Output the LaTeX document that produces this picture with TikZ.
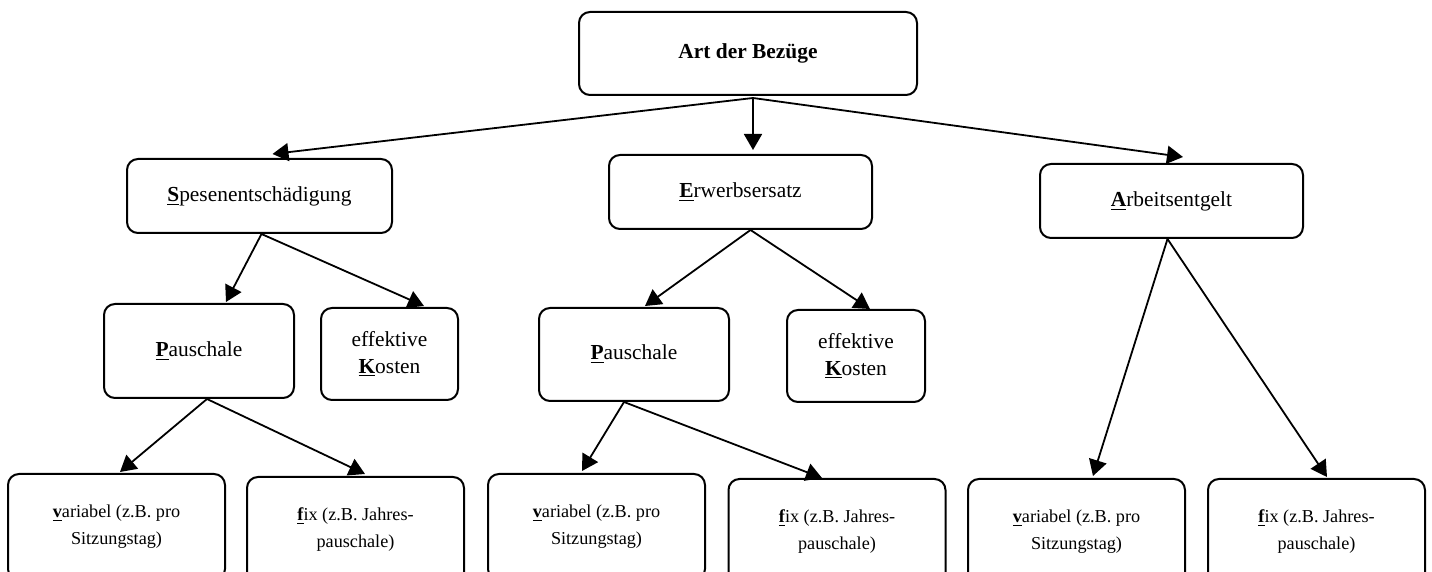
\documentclass[tikz,border=0pt]{standalone}
\usepackage{fontspec}
\setmainfont{Liberation Serif}
\usetikzlibrary{arrows.meta}

\begin{document}
\begin{tikzpicture}[x=0.5pt, y=-0.5pt,
    kasten/.style={draw, line width=1pt, rounded corners=5.5pt, inner sep=0pt,
        align=center, font=\fontsize{10.7}{13.5}\selectfont},
    klein/.style={kasten, minimum width=108.5pt, minimum height=53pt,
        font=\fontsize{9.1}{13.5}\selectfont},
    pfeil/.style={line width=0.9pt, -{Triangle[length=8pt, width=9pt]}}]
    \useasboundingbox (0,0) rectangle (1432,572);

    % Oberste Ebene
    \node[kasten, minimum width=169pt, minimum height=41.5pt] (art) at (748,53.5) {\textbf{Art der Bezüge}};

    % Arten der Bezüge
    \node[kasten, minimum width=132.5pt, minimum height=37pt] (spes) at (259.5,196) {\underline{\textbf{S}}pesenentschädigung};
    \node[kasten, minimum width=131.5pt, minimum height=37pt] (erw) at (740.5,192) {\underline{\textbf{E}}rwerbsersatz};
    \node[kasten, minimum width=131.5pt, minimum height=37pt] (arb) at (1171.5,201) {\underline{\textbf{A}}rbeitsentgelt};

    % Pauschale oder effektive Kosten
    \node[kasten, minimum width=95pt, minimum height=47pt] (pau1) at (199,351) {\underline{\textbf{P}}auschale};
    \node[kasten, minimum width=68.5pt, minimum height=46pt] (eff1) at (389.5,354) {effektive\\\underline{\textbf{K}}osten};
    \node[kasten, minimum width=95pt, minimum height=46.5pt] (pau2) at (634,354.5) {\underline{\textbf{P}}auschale};
    \node[kasten, minimum width=69pt, minimum height=46pt] (eff2) at (856,356) {effektive\\\underline{\textbf{K}}osten};

    % Unterste Ebene
    \node[klein] (var1) at (116.5,527) {\underline{\textbf{v}}ariabel (z.B. pro\\Sitzungstag)};
    \node[klein] (fix1) at (355.5,530) {\underline{\textbf{f}}ix (z.B. Jahres-\\pauschale)};
    \node[klein] (var2) at (596.5,527) {\underline{\textbf{v}}ariabel (z.B. pro\\Sitzungstag)};
    \node[klein] (fix2) at (837,532) {\underline{\textbf{f}}ix (z.B. Jahres-\\pauschale)};
    \node[klein] (var3) at (1076.5,532) {\underline{\textbf{v}}ariabel (z.B. pro\\Sitzungstag)};
    \node[klein] (fix3) at (1316.5,532) {\underline{\textbf{f}}ix (z.B. Jahres-\\pauschale)};

    % Pfeile
    \draw[pfeil] ([shift={(5,2)}]art.south) -- ([shift={(13,-4)}]spes.north);
    \draw[pfeil] ([shift={(5,2)}]art.south) -- ([shift={(12.5,-4)}]erw.north);
    \draw[pfeil] ([shift={(5,2)}]art.south) -- ([shift={(11.5,-6)}]arb.north);

    \draw[pfeil] ([xshift=1pt]spes.south) -- ([shift={(27,-1)}]pau1.north);
    \draw[pfeil] ([xshift=1pt]spes.south) -- ([shift={(34.5,-1)}]eff1.north);
    \draw[pfeil] ([xshift=5pt]erw.south) -- ([shift={(11,-1)}]pau2.north);
    \draw[pfeil] ([xshift=5pt]erw.south) -- ([shift={(14,0)}]eff2.north);

    \draw[pfeil] ([xshift=4pt]pau1.south) -- ([shift={(3.5,-1)}]var1.north);
    \draw[pfeil] ([xshift=4pt]pau1.south) -- ([shift={(9.5,-2)}]fix1.north);
    \draw[pfeil] ([xshift=-5pt]pau2.south) -- ([shift={(-14.5,-2)}]var2.north);
    \draw[pfeil] ([xshift=-5pt]pau2.south) -- ([shift={(-15,0)}]fix2.north);
    \draw[pfeil] ([xshift=-2pt]arb.south) -- ([shift={(16.5,-2)}]var3.north);
    \draw[pfeil] ([xshift=-2pt]arb.south) -- ([shift={(10.5,-1)}]fix3.north);

\end{tikzpicture}
\end{document}
